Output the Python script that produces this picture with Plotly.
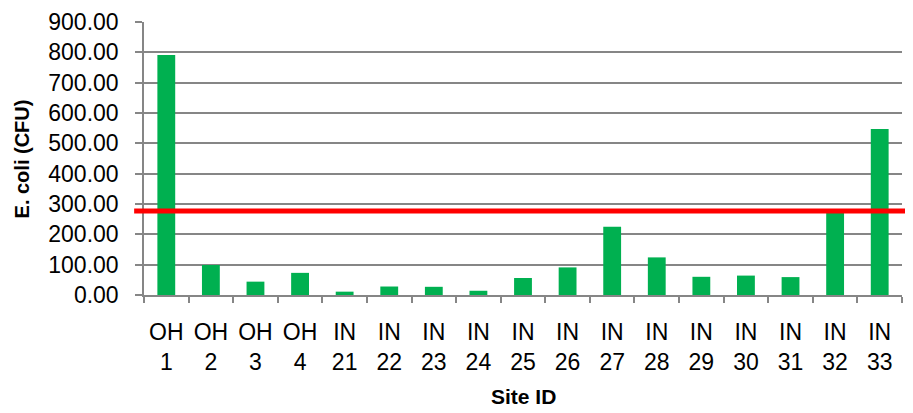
import plotly.graph_objects as go

sites = ["OH<br>1", "OH<br>2", "OH<br>3", "OH<br>4", "IN<br>21", "IN<br>22", "IN<br>23", "IN<br>24",
         "IN<br>25", "IN<br>26", "IN<br>27", "IN<br>28", "IN<br>29", "IN<br>30", "IN<br>31", "IN<br>32", "IN<br>33"]
ecoli = [791, 99, 44, 73, 11, 28, 27, 14, 56, 91, 225, 124, 60, 64, 59, 272, 547]
threshold = 277
y_ticks = [0, 100, 200, 300, 400, 500, 600, 700, 800, 900]

FONT = "Liberation Sans"

fig = go.Figure()
fig.add_trace(go.Bar(x=sites, y=ecoli, marker=dict(color="#00B050", line=dict(width=0)), width=0.4))

fig.add_shape(type="line", xref="paper", yref="y", x0=-0.013, x1=1.03, y0=threshold, y1=threshold,
              line=dict(color="#FF0000", width=5), layer="above")

fig.update_layout(
    width=913, height=413,
    margin=dict(l=136, r=19, t=14, b=126),
    plot_bgcolor="white", paper_bgcolor="white",
    showlegend=False,
    font=dict(family=FONT, size=23, color="black"),
    bargap=0.6,
    annotations=[
        dict(text="<b>Site ID</b>", xref="paper", yref="paper", x=0.5, y=-0.372,
             xanchor="center", yanchor="middle", showarrow=False, font=dict(family=FONT, size=21)),
        dict(text="<b>E. coli (CFU)</b>", xref="paper", yref="paper", x=-0.161, y=0.5, textangle=-90,
             xanchor="center", yanchor="middle", showarrow=False, font=dict(family=FONT, size=20)),
    ],
)
fig.update_xaxes(
    automargin=False,
    showline=True, linecolor="#868686", linewidth=1.5,
    ticks="outside", tickson="boundaries", ticklen=6, tickcolor="#868686", tickwidth=1.5,
    showgrid=False,
    tickfont=dict(family=FONT, size=23),
    ticklabelstandoff=16,
)
fig.update_yaxes(
    automargin=False,
    range=[0, 900], tickvals=y_ticks, tickformat=".2f",
    showline=True, linecolor="#868686", linewidth=1.5,
    ticks="outside", ticklen=7, tickcolor="#868686", tickwidth=1.5,
    showgrid=True, gridcolor="#868686", gridwidth=1.5,
    zeroline=False,
    tickfont=dict(family=FONT, size=23),
    ticklabelstandoff=12,
)

fig.write_html("out.html")
